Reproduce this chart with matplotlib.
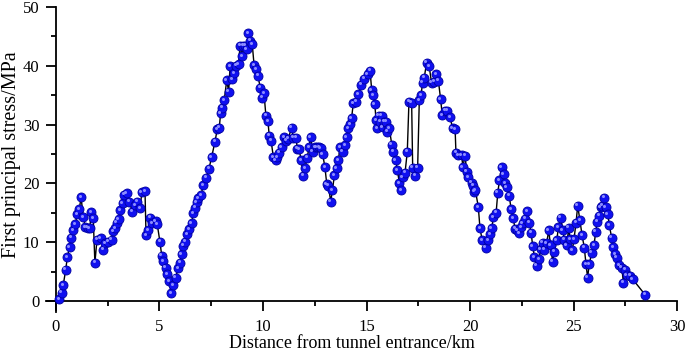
import matplotlib
matplotlib.use('Agg')
import matplotlib.pyplot as plt
import matplotlib.transforms as mtransforms
import numpy as np

# distance from tunnel entrance (km) and first principal stress (MPa)
distance = [
    0.16, 0.27, 0.35, 0.47, 0.55, 0.66, 0.74, 0.84, 0.93, 1.03, 1.13, 1.21, 1.32, 1.42, 1.53,
    1.63, 1.71, 1.80, 1.88, 1.98, 2.16, 2.29, 2.37, 2.53, 2.69, 2.75, 2.85, 2.93, 3.03, 3.11,
    3.22, 3.30, 3.41, 3.54, 3.69, 3.82, 3.93, 4.06, 4.15, 4.30, 4.35, 4.46, 4.54, 4.65, 4.82,
    4.89, 5.02, 5.11, 5.18, 5.30, 5.38, 5.47, 5.57, 5.67, 5.78, 5.91, 5.99, 6.07, 6.15, 6.23,
    6.34, 6.44, 6.55, 6.63, 6.73, 6.80, 6.87, 7.00, 7.12, 7.25, 7.39, 7.52, 7.68, 7.79, 7.89,
    7.95, 8.04, 8.13, 8.25, 8.34, 8.41, 8.52, 8.61, 8.70, 8.82, 8.89, 9.00, 9.05, 9.14, 9.21,
    9.29, 9.37, 9.48, 9.57, 9.66, 9.76, 9.86, 9.95, 10.05, 10.14, 10.24, 10.30, 10.39, 10.50,
    10.61, 10.69, 10.79, 10.90, 11.01, 11.11, 11.22, 11.38, 11.46, 11.59, 11.66, 11.75, 11.84,
    11.95, 12.03, 12.14, 12.22, 12.30, 12.40, 12.51, 12.59, 12.71, 12.79, 12.88, 12.99, 13.08,
    13.16, 13.27, 13.35, 13.45, 13.56, 13.64, 13.72, 13.85, 13.96, 14.04, 14.12, 14.20, 14.28,
    14.36, 14.49, 14.60, 14.75, 14.90, 15.05, 15.17, 15.25, 15.33, 15.40, 15.46, 15.52, 15.58,
    15.65, 15.73, 15.78, 15.86, 15.94, 16.00, 16.10, 16.22, 16.30, 16.41, 16.49, 16.59, 16.67,
    16.75, 16.86, 16.97, 17.05, 17.18, 17.23, 17.34, 17.47, 17.55, 17.63, 17.71, 17.79, 17.90,
    18.03, 18.14, 18.27, 18.38, 18.47, 18.58, 18.66, 18.79, 18.90, 19.03, 19.16, 19.28, 19.32,
    19.44, 19.60, 19.65, 19.76, 19.84, 19.92, 20.08, 20.16, 20.19, 20.26, 20.40, 20.48, 20.59,
    20.76, 20.88, 20.97, 21.05, 21.13, 21.26, 21.34, 21.42, 21.53, 21.62, 21.70, 21.78, 21.90,
    21.98, 22.09, 22.17, 22.29, 22.37, 22.46, 22.54, 22.66, 22.76, 22.86, 22.95, 23.03, 23.11,
    23.22, 23.33, 23.41, 23.51, 23.59, 23.70, 23.80, 23.89, 23.99, 24.07, 24.19, 24.27, 24.38,
    24.48, 24.56, 24.67, 24.77, 24.83, 24.94, 25.02, 25.12, 25.20, 25.31, 25.41, 25.52, 25.60,
    25.68, 25.76, 25.88, 25.99, 26.07, 26.15, 26.23, 26.31, 26.39, 26.47, 26.55, 26.65, 26.73,
    26.84, 26.92, 27.00, 27.09, 27.20, 27.33, 27.41, 27.49, 27.57, 27.73, 27.86, 28.45,
]
stress = [
    0.3, 1.4, 2.7, 5.3, 7.5, 9.2, 10.8, 12.1, 13.1, 14.8, 15.6, 17.7, 14.3, 12.6, 12.5,
    12.4, 15.1, 14.1, 6.5, 10.4, 10.7, 8.7, 9.8, 10.1, 10.4, 11.9, 12.4, 13.3, 13.9, 15.5,
    16.6, 18.1, 18.3, 16.9, 15.2, 16.3, 16.9, 15.8, 18.5, 18.7, 11.2, 12.1, 14.2, 13.2, 13.6,
    13.1, 10.1, 7.7, 6.8, 5.7, 4.6, 3.4, 1.3, 2.7, 4.0, 5.6, 6.5, 8.0, 9.4, 10.1,
    11.4, 12.2, 13.2, 14.9, 15.9, 16.8, 17.5, 18.0, 19.7, 21.0, 22.5, 24.5, 27.1, 29.2, 29.5,
    31.9, 32.9, 34.2, 37.6, 35.6, 39.9, 37.7, 38.7, 40.0, 40.3, 43.4, 41.6, 43.4, 43.4, 42.8,
    45.5, 44.3, 43.7, 40.1, 39.4, 38.3, 36.3, 34.6, 35.3, 31.5, 30.6, 28.1, 27.3, 24.5,
    23.9, 24.5, 25.2, 26.2, 27.9, 27.3, 27.6, 29.5, 27.8, 27.8, 25.9, 25.8, 23.9,
    21.3, 22.6, 24.4, 26.2, 27.9, 25.4, 26.2, 26.2, 26.2, 26.0, 25.0, 22.8, 19.9,
    19.6, 16.9, 18.8, 21.4, 22.6, 23.9, 26.2, 25.4, 26.5, 27.9, 29.4, 30.1, 31.1,
    33.6, 33.9, 35.2, 36.8, 37.8, 38.6, 39.2, 35.9, 35.0, 33.5, 30.8, 29.4, 31.5,
    30.5, 31.5, 29.6, 30.5, 30.5, 28.8, 29.4, 26.6, 25.4, 24.0, 22.3, 20.0, 18.8,
    21.1, 21.8, 25.4, 33.9, 33.7, 22.7, 21.3, 22.7, 34.2, 35.0, 37.1, 38.0, 40.5,
    39.9, 37.1, 37.3, 38.6, 37.5, 34.3, 31.6, 32.4, 32.4, 31.3, 29.4, 29.2, 25.2,
    24.8, 24.8, 22.8, 24.7, 22.0, 21.1, 20.1, 19.6, 18.6, 18.8, 16.0, 12.4, 10.3,
    9.1, 10.3, 11.4, 12.4, 14.3, 15.0, 18.4, 20.5, 22.8, 21.6, 20.0, 19.4, 17.9,
    15.6, 14.1, 12.3, 12.0, 11.5, 12.6, 13.2, 14.0, 15.3, 13.3, 11.6, 9.3, 7.5,
    6.0, 7.1, 8.8, 9.9, 8.7, 9.8, 12.0, 9.5, 6.7, 8.4, 10.3, 12.6, 14.2,
    12.1, 10.4, 9.5, 12.5, 10.5, 8.6, 10.5, 13.3, 16.2, 13.7, 11.2, 9.1, 6.3,
    4.0, 6.3, 8.2, 9.5, 11.8, 13.5, 14.5, 16.0, 16.2, 17.6, 16.0, 14.8, 12.9,
    10.8, 9.2, 8.0, 7.4, 6.1, 5.7, 3.1, 5.3, 4.4, 4.3, 3.7, 1.1,
]

x_ticks = [0, 5, 10, 15, 20, 25, 30]
y_ticks = [0, 10, 20, 30, 40, 50]

plt.rcParams['font.family'] = 'Liberation Serif'

fig = plt.figure(figsize=(6.85, 3.51), dpi=100)
ax = fig.add_axes([0.0672, 0.111, 0.9212, 0.869])

ax.plot(distance, stress, color='black', lw=1.0, zorder=2)
ax.plot(distance, stress, 'o', ms=6.5, mfc='#1010f0', mec='#0000a0', mew=0.6, zorder=3)
# little highlight on each ball
hl = mtransforms.offset_copy(ax.transData, fig=fig, x=-1.0, y=1.0, units='points')
ax.plot(distance, stress, 'o', ms=2.2, mfc='#8c8cff', mec='none', transform=hl, zorder=4)

ax.set_xlim(-0.48, 30)
ax.set_ylim(-1.87, 50)
ax.spines['left'].set_position(('data', 0))
ax.spines['bottom'].set_position(('data', 0))
ax.spines['top'].set_visible(False)
ax.spines['right'].set_visible(False)
for s in ['left', 'bottom']:
    ax.spines[s].set_linewidth(1.3)

ax.set_xticks(x_ticks)
ax.set_yticks(y_ticks)
ax.set_xticks(np.arange(2.5, 30, 5), minor=True)
ax.set_yticks(np.arange(5, 50, 10), minor=True)
ax.tick_params(which='major', direction='out', length=7, width=1.3, labelsize=12, pad=5)
ax.tick_params(which='minor', direction='out', length=3.5, width=1.3)
ax.tick_params(axis='x', pad=6)

ax.set_xlabel('Distance from tunnel entrance/km', fontsize=13, labelpad=0)
ax.set_ylabel('First principal stress/MPa', fontsize=14.5, labelpad=0)
ax.xaxis.set_label_coords(0.485, -0.075)
ax.yaxis.set_label_coords(-0.039, 0.515)

fig.savefig('out.png', dpi=100)
